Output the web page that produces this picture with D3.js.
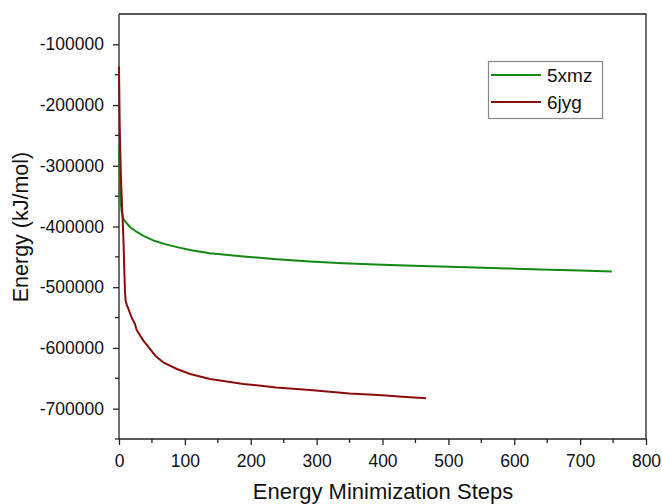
<!DOCTYPE html>
<html>
<head>
<meta charset="utf-8">
<script src="https://cdn.jsdelivr.net/npm/d3@7/dist/d3.min.js"></script>
<style>
  html, body { margin: 0; padding: 0; background: #fff; }
  svg { display: block; font-family: "Liberation Sans", Arial, sans-serif; }
</style>
</head>
<body>
<svg id="chart" width="662" height="504"></svg>
<script>
// ---- data ----
const seriesNames = ["5xmz", "6jyg"];
const seriesColors = ["#128a12", "#8b0c0c"];

const steps5xmz = [0, 1, 2, 3, 4, 6, 8, 12, 18, 27, 38, 52, 70, 88, 110, 138, 189, 239, 290, 340, 400, 460, 528, 590, 654, 700, 748];
const energy5xmz = [-270000, -320000, -350000, -365000, -375000, -385000, -390000, -395000, -402000, -409000, -416000, -423000, -429000, -434000, -439000, -444000, -449400, -453800, -457600, -460500, -463000, -465000, -467000, -469000, -471300, -472500, -474000];

const steps6jyg = [0, 1, 2, 3, 4, 5, 6, 7, 8, 9, 10, 12, 14, 19, 24, 27, 37, 47, 55, 67, 88, 108, 138, 189, 239, 290, 350, 400, 430, 466];
const energy6jyg = [-137000, -230000, -280000, -320000, -350000, -375000, -400000, -430000, -470000, -505000, -522000, -530000, -535000, -549500, -560000, -571000, -588000, -601600, -612700, -623700, -634700, -643000, -651200, -659400, -665000, -669300, -675000, -678000, -680500, -683000];

const xTicks = [0, 100, 200, 300, 400, 500, 600, 700, 800];
const yTicks = [-100000, -200000, -300000, -400000, -500000, -600000, -700000];
const xLabel = "Energy Minimization Steps";
const yLabel = "Energy (kJ/mol)";

// ---- layout ----
const svg = d3.select("#chart");
const mLeft = 119, mRight = 646, mTop = 14, mBottom = 439;

const x = d3.scaleLinear().domain([0, 800]).range([mLeft, mRight]);
const y = d3.scaleLinear().domain([-750000, -50000]).range([mBottom, mTop]);

const axisColor = "#222";
const fmt = d => String(d);

// frame (top and right)
svg.append("path")
  .attr("d", `M${mLeft},${mTop}H${mRight}V${mBottom}`)
  .attr("fill", "none").attr("stroke", axisColor).attr("stroke-width", 1.3);

// x axis
const xAxis = svg.append("g").attr("transform", `translate(0,${mBottom})`)
  .call(d3.axisBottom(x).tickValues(xTicks).tickFormat(fmt).tickSize(6).tickPadding(10));
xAxis.append("g").selectAll("line")
  .data(d3.range(50, 800, 100)).join("line")
  .attr("x1", d => x(d)).attr("x2", d => x(d)).attr("y1", 0).attr("y2", 4)
  .attr("stroke", axisColor).attr("stroke-width", 1.3);

// y axis
const yAxis = svg.append("g").attr("transform", `translate(${mLeft},0)`)
  .call(d3.axisLeft(y).tickValues(yTicks).tickFormat(fmt).tickSize(6).tickPadding(9));
yAxis.append("g").selectAll("line")
  .data(d3.range(-750000, -50000, 100000)).join("line")
  .attr("x1", 0).attr("x2", -4).attr("y1", d => y(d)).attr("y2", d => y(d))
  .attr("stroke", axisColor).attr("stroke-width", 1.3);

[xAxis, yAxis].forEach(g => {
  g.select(".domain").attr("stroke", axisColor).attr("stroke-width", 1.3);
  g.selectAll(".tick line").attr("stroke", axisColor).attr("stroke-width", 1.3);
  g.selectAll(".tick text").attr("fill", "#111").style("font-size", "17.5px")
   .style("font-family", "'Liberation Sans', Arial, sans-serif");
});
yAxis.select(".domain").attr("d", `M0,${mBottom}V${mTop}`);
xAxis.select(".domain").attr("d", `M${mLeft},0H${mRight}`);

// axis titles
svg.append("text").attr("x", 383).attr("y", 498.5).attr("text-anchor", "middle")
  .style("font-size", "22px").attr("fill", "#111").text(xLabel);
svg.append("text").attr("transform", "translate(28,227) rotate(-90)").attr("text-anchor", "middle")
  .style("font-size", "21.5px").attr("fill", "#111").text(yLabel);

// lines
const line = d3.line().x(d => x(d[0])).y(d => y(d[1]));
const data = [
  d3.zip(steps5xmz, energy5xmz),
  d3.zip(steps6jyg, energy6jyg)
];
svg.append("g").selectAll("path").data(data).join("path")
  .attr("d", line).attr("fill", "none")
  .attr("stroke", (d, i) => seriesColors[i]).attr("stroke-width", 2)
  .attr("stroke-linejoin", "round");

// legend
const lg = svg.append("g");
lg.append("rect").attr("x", 488.5).attr("y", 61.5).attr("width", 114).attr("height", 57)
  .attr("fill", "#fff").attr("stroke", "#888").attr("stroke-width", 1.2);
seriesNames.forEach((n, i) => {
  const yy = 75 + i * 27;
  lg.append("line").attr("x1", 491).attr("x2", 541).attr("y1", yy).attr("y2", yy)
    .attr("stroke", seriesColors[i]).attr("stroke-width", 2);
  lg.append("text").attr("x", 547).attr("y", yy + 7).style("font-size", "19px")
    .attr("fill", "#111").text(n);
});
</script>
</body>
</html>
